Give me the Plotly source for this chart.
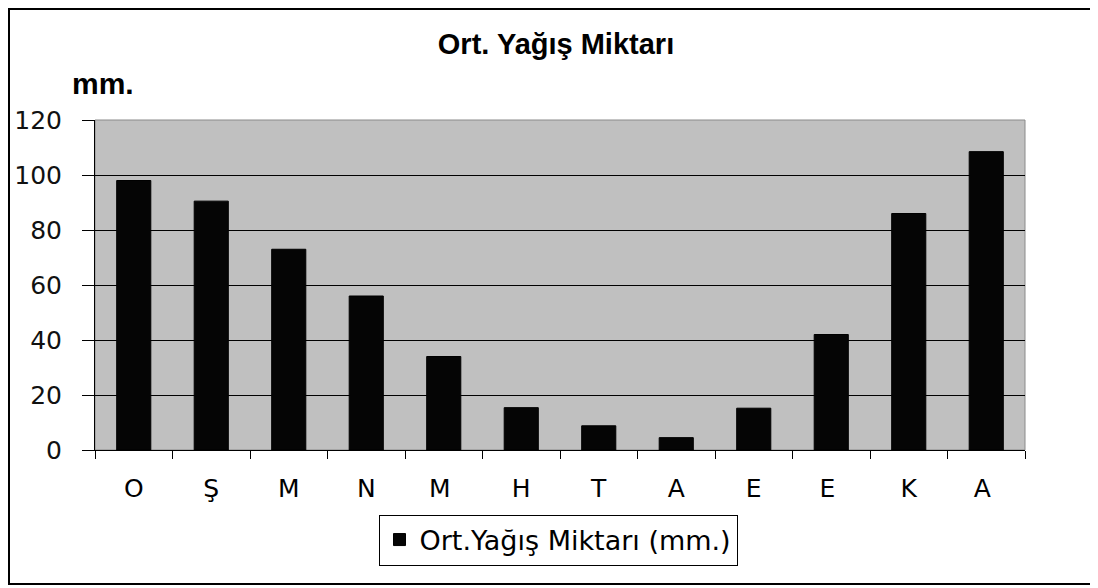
import plotly.graph_objects as go

# Monthly average rainfall (mm.)
months = ["O", "Ş", "M", "N", "M ", "H", "T", "A", "E", "E ", "K", "A "]
rain = [98, 90.5, 73, 56, 34, 15.4, 8.8, 4.5, 15.2, 42, 86, 108.5]
y_ticks = [0, 20, 40, 60, 80, 100, 120]

W, H = 1098, 588
OFF = 8  # page body margin
L, R, T, B = 95, 73, 120, 138
pw, ph = W - L - R, H - T - B


def px_x(x):
    return (x - L) / pw


def px_y(y):
    return (H - B - y) / ph


fig = go.Figure()

fig.add_trace(
    go.Bar(
        x=months,
        y=rain,
        name="Ort.Yağış Miktarı (mm.)",
        marker=dict(color="#050505", line=dict(color="#000000", width=1)),
        showlegend=True,
    )
)

fig.update_layout(
    width=W - OFF,
    height=H - OFF,
    margin=dict(l=L - OFF, r=R, t=T - OFF, b=B, autoexpand=False),
    paper_bgcolor="white",
    plot_bgcolor="#c0c0c0",
    bargap=0.56,
    font=dict(family="DejaVu Sans, sans-serif", color="black"),
    title=dict(
        text="<b>Ort. Yağış Miktarı</b>",
        x=(556 - OFF) / (W - OFF),
        xanchor="center",
        y=1 - (44 - OFF) / (H - OFF),
        yanchor="middle",
        font=dict(family="Liberation Sans, Arial, sans-serif", size=29, color="black"),
    ),
    legend=dict(
        orientation="h",
        x=px_x(558),
        xanchor="center",
        y=px_y(540),
        yanchor="middle",
        bordercolor="black",
        borderwidth=1,
        bgcolor="white",
        font=dict(size=27, color="black"),
    ),
    showlegend=True,
)

fig.update_xaxes(
    type="category",
    automargin=False,
    showline=True,
    linecolor="black",
    linewidth=1,
    ticks="outside",
    tickson="boundaries",
    ticklen=8,
    tickcolor="black",
    showgrid=False,
    ticklabelstandoff=16,
    tickfont=dict(size=25, color="black"),
)

fig.update_yaxes(
    range=[0, 120],
    tickvals=y_ticks,
    automargin=False,
    showline=True,
    linecolor="black",
    linewidth=1,
    ticks="outside",
    ticklen=12,
    tickcolor="black",
    showgrid=True,
    gridcolor="black",
    gridwidth=1,
    zeroline=False,
    ticklabelstandoff=15,
    tickfont=dict(size=25, color="#111111"),
)

# plot area border (grey top/right)
fig.add_shape(
    type="rect", xref="paper", yref="paper", x0=0, x1=1, y0=0, y1=1,
    line=dict(color="#8a8a8a", width=1), layer="below",
)
# outer chart frame
fig.add_shape(
    type="rect", xref="paper", yref="paper",
    x0=px_x(9), x1=px_x(1093), y0=px_y(584), y1=px_y(9),
    line=dict(color="black", width=2),
)

fig.add_annotation(
    text="<b>mm.</b>", xref="paper", yref="paper",
    x=px_x(70), xanchor="left", y=px_y(83), yanchor="middle",
    showarrow=False,
    font=dict(family="Liberation Sans, Arial, sans-serif", size=30, color="black"),
)

fig.write_html("out.html")
